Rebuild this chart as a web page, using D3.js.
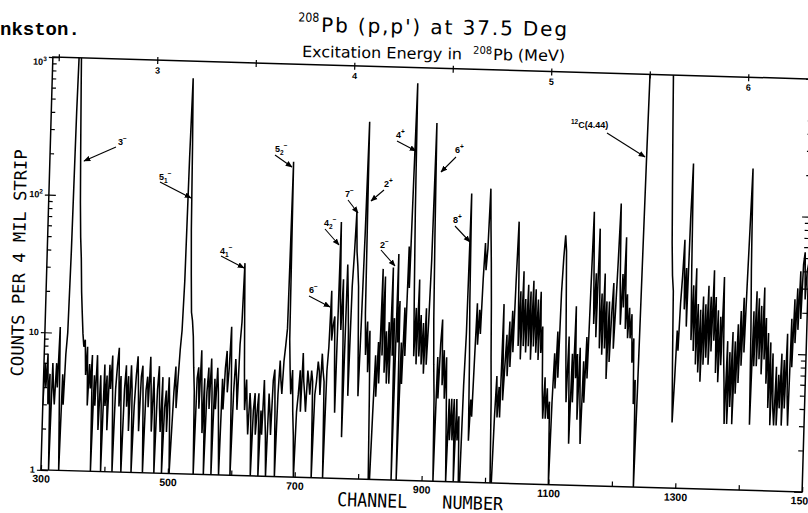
<!DOCTYPE html>
<html><head><meta charset="utf-8">
<script src="https://cdn.jsdelivr.net/npm/d3@7"></script>
<style>body{margin:0;background:#fff}svg{display:block}</style>
</head><body>
<svg id="c" width="808" height="513"></svg>
<script>
// ---------------- data ----------------
const chStart = 300, chStep = 2;           // channel of first value, channels per value
const chMin = 300, chMax = 1500;
// counts per 4 mil strip (every 2nd channel), 100 channels per array
const c300  = [3,6,4,7,3,5,1,6,4,3, 6,4,11,3,1,5,3,7,10,40, 400,1600,1800,600,220,90,50,35,20,14, 10,8,9,5,8,3,6,4,7,1, 5,3,7,4,2,5,3,1,6,3];
const c400  = [5,2,6,4,7,3,1,4,6,8, 3,5,2,1,4,6,3,5,2,6, 4,1,3,5,7,4,2,5,6,3, 1,4,5,3,7,4,2,5,3,1, 4,6,3,2,5,1,3,4,2,5];
const c500  = [3,1,2,4,6,3,5,8,11,25, 200,750,250,60,28,15,13,10,6,4, 1,5,6,3,8,4,2,5,1,4, 6,3,7,4,1,5,3,6,4,2, 1,5,3,6,8,4,6,12,5,1];
const c600  = [4,7,5,3,9,13,35,14,6,3, 5,3,2,4,3,1,3,4,2,3, 4,1,3,2,5,3,2,1,4,3, 2,5,6,3,1,4,7,5,4,7, 9,12,195,10,6,4,6,3,2,1];
const c700  = [3,4,6,3,8,5,4,3,6,5, 4,6,5,1,4,5,7,6,4,8, 6,5,1,6,9,23,10,13,15,6, 3,73,20,12,28,10,2,36,22,12, 4,25,43,87,45,35,25,10,4,14];
const c800  = [60,395,16,8,14,6,12,4,1,1, 3,8,4,10,5,34,8,30,6,12, 5,14,5,35,8,15,1,44,10,20, 1,10,5,18,8,50,25,150,770,90, 25,8,18,7,29,8,16,7,14,6];
const c900  = [18,7,14,40,400,60,15,7,4,1, 8,4,10,15,5,9,4,8,3,1, 4,2,4,2,4,1,4,2,3,1, 1,5,12,125,20,8,2,4,3,8, 20,10,18,12,30,55,35,50,137,70];
const c1000 = [40,20,8,4,1,1,3,6,3,5, 3,20,4,7,12,6,15,7,18,9, 30,80,35,10,25,8,35,10,22,9, 28,10,25,8,30,10,26,9,22,8, 25,9,14,5,3,6,3,5,3,4];
const c1100 = [1,4,9,5,13,6,25,45,65,50, 20,8,4,12,5,2,9,4,20,6, 9,3,10,4,2,8,4,12,6,25, 98,40,15,35,12,74,30,10,25,9, 35,10,22,6,22,8,18,30,10,20];
const c1200 = [45,114,30,15,35,20,65,14,25,12, 20,12,18,8,12,4,6,1,5,40, 300,1600,2200,2800,3100,3400,3600,3900,4000,4100, 4000,3900,3700,3400,3100,2800,2300,1900,1500,1200, 400,150,60,35,27,8,3,6,14,10];
const c1300 = [22,35,64,20,40,15,90,230,40,12, 30,10,40,8,22,7,20,6,25,8, 22,9,30,8,25,10,39,12,25,7, 20,6,18,8,35,10,6,3,12,3, 10,4,14,3,12,5,16,6,20,8];
const c1400 = [25,10,30,80,218,40,15,3,20,8, 28,8,25,9,22,7,30,9,18,6, 14,4,12,3,10,4,3,8,3,7, 4,10,3,9,4,14,5,3,18,8, 25,12,30,15,40,18,45,55,25,40];
const c1500 = [45];

const xTicks      = [300,400,500,600,700,800,900,1000,1100,1200,1300,1400,1500];
const xTickLabels = [300,500,700,900,1100,1300,1500];
const yMajor      = [1,10,100,1000];
const yMajorText  = [[["1"]],[["10"]],[["10"],["2","sup"]],[["10"],["3","sup"]]];
const yMinor      = [2,3,4,5,6,7,8,9,20,30,40,50,60,70,80,90,200,300,400,500,600,700,800,900];
const eRange      = [2.47, 6.334];           // excitation energy (MeV) at channel 300 and 1500
const eTicks      = [2.5,3,3.5,4,4.5,5,5.5,6];
const eTickLabels = [3,4,5,6];

const peakLabels = [
  [["3"],["−","sup"]],
  [["5"],["1","sub"],["−","sup"]],
  [["4"],["1","sub"],["−","sup"]],
  [["5"],["2","sub"],["−","sup"]],
  [["6"],["−","sup"]],
  [["4"],["2","sub"],["−","sup"]],
  [["7"],["−","sup"]],
  [["2"],["+","sup"]],
  [["2"],["−","sup"]],
  [["4"],["+","sup"]],
  [["6"],["+","sup"]],
  [["8"],["+","sup"]],
  [["12","sup"],["C(4.44)"]]
];
// layout of the labels: text anchor and arrow (screen px)
const peakLayout = [
  {tx:118,ty:145, x1:116,y1:147, x2:84,y2:161},
  {tx:159,ty:180, x1:160,y1:182, x2:191,y2:198},
  {tx:220,ty:254, x1:221,y1:256, x2:244,y2:268},
  {tx:275,ty:152, x1:275,y1:155, x2:292,y2:167},
  {tx:309,ty:293, x1:309,y1:296, x2:330,y2:307},
  {tx:324,ty:226, x1:325,y1:229, x2:339,y2:245},
  {tx:345,ty:197, x1:348,y1:200, x2:358,y2:213},
  {tx:384,ty:187, x1:384,y1:190, x2:371,y2:201},
  {tx:380,ty:248, x1:381,y1:250, x2:395,y2:266},
  {tx:396,ty:138, x1:397,y1:141, x2:416,y2:151},
  {tx:455,ty:153, x1:456,y1:157, x2:441,y2:172},
  {tx:453,ty:223, x1:455,y1:226, x2:470,y2:242},
  {tx:571,ty:128, x1:607,y1:133, x2:645,y2:157}
];

// ---------------- drawing ----------------
const counts = [].concat(c300, c400, c500, c600, c700, c800, c900, c1000, c1100, c1200, c1300, c1400, c1500);
const data = counts.map((c, i) => ({ch: chStart + i * chStep, c}));

const svg = d3.select('#c');
const W = 761.5, H = 413, L = 54.5, T = 55.5, TILT = 1.66;

function rich(sel, parts, size) {
  let cur = 0;
  parts.forEach(([t, k]) => {
    const target = k === 'sup' ? -0.42 * size : k === 'sub' ? 0.28 * size : 0;
    sel.append('tspan').attr('dy', target - cur).attr('font-size', k ? size * 0.72 : size).text(t);
    cur = target;
  });
}

const defs = svg.append('defs');
defs.append('marker').attr('id', 'ah').attr('viewBox', '0 0 10 10')
  .attr('refX', 9).attr('refY', 5).attr('markerWidth', 7).attr('markerHeight', 7)
  .attr('markerUnits', 'userSpaceOnUse').attr('orient', 'auto')
  .append('path').attr('d', 'M0,1 L10,5 L0,9 Z').attr('fill', '#000');

const x = d3.scaleLinear().domain([chMin, chMax]).range([0, W]);
const y = d3.scaleLog().domain([1, 1000]).range([H, 0]);
const e = d3.scaleLinear().domain(eRange).range([0, W]);

const g = svg.append('g').attr('transform', `rotate(${TILT}) translate(${L},${T})`);
g.append('clipPath').attr('id', 'clip').append('rect').attr('width', W).attr('height', H);

// spectrum
g.append('path').datum(data)
  .attr('clip-path', 'url(#clip)')
  .attr('fill', 'none').attr('stroke', '#000').attr('stroke-width', 1.55)
  .attr('stroke-linejoin', 'bevel')
  .attr('d', d3.line().x(d => x(d.ch)).y(d => y(Math.max(1, d.c))));

// frame
g.append('rect').attr('width', W).attr('height', H)
  .attr('fill', 'none').attr('stroke', '#000').attr('stroke-width', 1.5);

function styleAxis(s) {
  s.select('.domain').remove();
  s.selectAll('line').attr('stroke', '#000').attr('stroke-width', 1.2);
  s.selectAll('text').attr('fill', '#000').attr('font-family', 'Liberation Sans, Arial, sans-serif').attr('font-weight', 'bold');
}

// bottom axis
g.append('g').attr('transform', `translate(0,${H})`)
  .call(d3.axisBottom(x).tickValues(xTicks).tickSize(-5).tickPadding(5)
    .tickFormat(d => xTickLabels.includes(d) ? d : ''))
  .call(styleAxis)
  .call(s => s.selectAll('text').attr('font-size', 10.5));

// left axis
g.append('g').call(d3.axisLeft(y).tickValues(yMinor).tickSize(-4).tickFormat('')).call(styleAxis);
g.append('g').call(d3.axisLeft(y).tickValues(yMajor).tickSize(-7).tickFormat('')).call(styleAxis);
g.append('g').call(d3.axisLeft(y).tickValues(yMajor).tickSize(4).tickFormat('')).call(styleAxis);
yMajor.forEach((v, i) => {
  const t = g.append('text').attr('x', -6).attr('y', y(v) + (v === 1000 ? 8 : 3))
    .attr('text-anchor', 'end').attr('font-family', 'Liberation Sans, Arial, sans-serif')
    .attr('font-weight', 'bold').attr('fill', '#000');
  rich(t, yMajorText[i], 9);
});

// right axis
g.append('g').attr('transform', `translate(${W},0)`)
  .call(d3.axisRight(y).tickValues(yMinor).tickSize(-5).tickFormat('')).call(styleAxis);
g.append('g').attr('transform', `translate(${W},0)`)
  .call(d3.axisRight(y).tickValues(yMajor).tickSize(-8).tickFormat('')).call(styleAxis);

// top axis: excitation energy
g.append('g').call(d3.axisBottom(e).tickValues(eTicks).tickSize(4).tickPadding(3)
    .tickFormat(d => eTickLabels.includes(d) ? d : ''))
  .call(styleAxis)
  .call(s => s.selectAll('text').attr('font-size', 9));
g.append('g').call(d3.axisTop(e).tickValues(eTicks).tickSize(3).tickFormat('')).call(styleAxis);

// axis titles
const plotFont = 'DejaVu Sans Mono, monospace';
svg.append('text').attr('transform', 'translate(25,263) rotate(-89)')
  .attr('text-anchor', 'middle').attr('font-family', plotFont).attr('font-size', 17)
  .attr('textLength', 227).attr('lengthAdjust', 'spacingAndGlyphs').attr('fill', '#000')
  .text('COUNTS PER 4 MIL STRIP');
svg.append('text').attr('transform', `translate(337,506) rotate(${TILT})`)
  .attr('font-family', plotFont).attr('font-size', 19)
  .attr('textLength', 70).attr('lengthAdjust', 'spacingAndGlyphs').attr('fill', '#000')
  .text('CHANNEL');
svg.append('text').attr('transform', `translate(442,508.5) rotate(${TILT})`)
  .attr('font-family', plotFont).attr('font-size', 18)
  .attr('textLength', 61).attr('lengthAdjust', 'spacingAndGlyphs').attr('fill', '#000')
  .text('NUMBER');

// main title
const titleFont = 'DejaVu Sans, sans-serif';
const tg = svg.append('g').attr('transform', 'rotate(1,321,32)');
tg.append('text').attr('x', 298).attr('y', 22).attr('font-family', titleFont).attr('font-size', 12.5)
  .attr('textLength', 21).attr('lengthAdjust', 'spacingAndGlyphs').attr('fill', '#000').text('208');
tg.append('text').attr('x', 321).attr('y', 32).attr('font-family', titleFont).attr('font-size', 20)
  .attr('textLength', 246).attr('lengthAdjust', 'spacing').attr('fill', '#000')
  .text("Pb (p,p') at 37.5 Deg");

const sg = svg.append('g').attr('transform', 'rotate(0.9,302,57)');
sg.append('text').attr('x', 302).attr('y', 57).attr('font-family', titleFont).attr('font-size', 15.5)
  .attr('textLength', 160).attr('lengthAdjust', 'spacingAndGlyphs').attr('fill', '#000')
  .text('Excitation Energy in');
sg.append('text').attr('x', 473).attr('y', 51).attr('font-family', titleFont).attr('font-size', 10.5)
  .attr('textLength', 19).attr('lengthAdjust', 'spacingAndGlyphs').attr('fill', '#000').text('208');
sg.append('text').attr('x', 493).attr('y', 57).attr('font-family', titleFont).attr('font-size', 15.5)
  .attr('textLength', 72).attr('lengthAdjust', 'spacingAndGlyphs').attr('fill', '#000').text('Pb (MeV)');

// fragment of typed caption
svg.append('text').attr('x', 0).attr('y', 35).attr('font-family', 'Liberation Mono, Courier New, monospace')
  .attr('font-size', 19).attr('font-weight', 'bold').attr('fill', '#000').text('nkston.');

// peak labels with arrows
const ann = svg.append('g');
peakLayout.forEach((p, i) => {
  ann.append('line').attr('x1', p.x1).attr('y1', p.y1).attr('x2', p.x2).attr('y2', p.y2)
    .attr('stroke', '#000').attr('stroke-width', 1.1).attr('marker-end', 'url(#ah)');
  const t = ann.append('text').attr('x', p.tx).attr('y', p.ty)
    .attr('font-family', 'Liberation Sans, Arial, sans-serif').attr('font-weight', 'bold').attr('fill', '#000');
  rich(t, peakLabels[i], 9);
});
</script>
</body></html>
